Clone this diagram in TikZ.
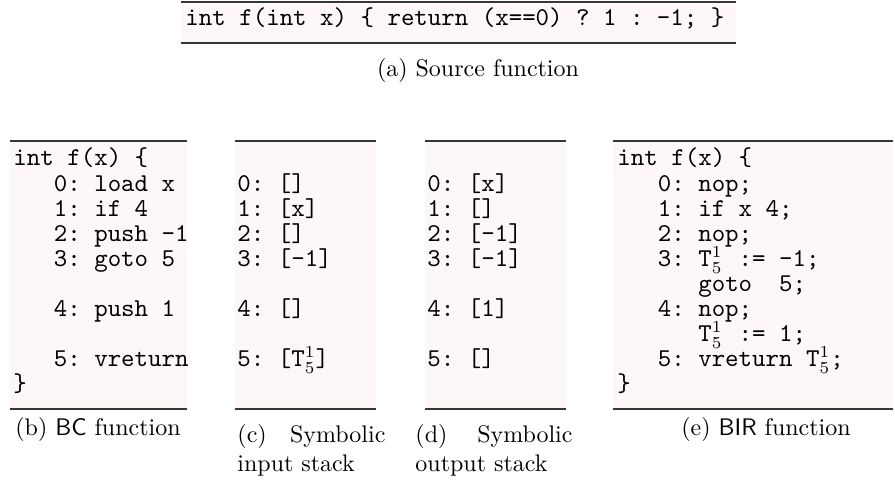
\documentclass[tikz,border=0pt]{standalone}
\usepackage{tikz}

\definecolor{codebg}{RGB}{253,248,247}
\definecolor{rulecol}{RGB}{55,55,55}
\newcommand{\codefont}{\fontsize{10.7}{12}\selectfont\ttfamily}
\newcommand{\tfive}{T$^1_5$}
\newcommand{\tpad}{\rlap{\tfive}\phantom{Tx}}

\tikzset{
	code/.style={anchor=base west,inner sep=0pt,font=\codefont},
	subcap/.style={anchor=base,inner sep=0pt,font=\normalsize},
	twocap/.style={anchor=north west,inner sep=0pt,text width=#1,align=justify,font=\normalsize},
	rule/.style={draw=rulecol,line width=0.5pt}
}

\begin{document}
\begin{tikzpicture}[x=0.417pt,y=-0.417pt]
		\useasboundingbox (0,0) rectangle (895,489);
		% source line
		\fill[codebg] (181,2) rectangle (736,43);
		\draw[rule] (181,2) -- (736,2);
		\draw[rule] (181,43) -- (736,43);
		\node[code] (src) at (185,26) {int~f(int~x)~\{~return~(x==0)~?~1~:~-1;~\}};
		\node[subcap] (capa) at (478,77) {(a) Source function};
		% listing boxes
		\foreach \xa/\xb in {10/187,235/376,425/566,613/893}{
			\fill[codebg] (\xa,141) rectangle (\xb,409);
			\draw[rule] (\xa,141) -- (\xb,141);
			\draw[rule] (\xa,409) -- (\xb,409);
		}
		% BC function
		\node[code] (b0) at (13,166) {int~f(x)~\{};
		\node[code] (b1) at (13,192) {~~~0:~load~x};
		\node[code] (b2) at (13,217) {~~~1:~if~4};
		\node[code] (b3) at (13,242) {~~~2:~push~-1};
		\node[code] (b4) at (13,267) {~~~3:~goto~5};
		\node[code] (b5) at (13,317) {~~~4:~push~1};
		\node[code] (b6) at (13,367) {~~~5:~vreturn};
		\node[code] (b7) at (13,392) {\}};
		% input stack
		\node[code] (c1) at (237,192) {0:~[]};
		\node[code] (c2) at (237,217) {1:~[x]};
		\node[code] (c3) at (237,242) {2:~[]};
		\node[code] (c4) at (237,267) {3:~[-1]};
		\node[code] (c5) at (237,317) {4:~[]};
		\node[code] (c6) at (237,367) {5:~[\tfive]};
		% output stack
		\node[code] (d1) at (427,192) {0:~[x]};
		\node[code] (d2) at (427,217) {1:~[]};
		\node[code] (d3) at (427,242) {2:~[-1]};
		\node[code] (d4) at (427,267) {3:~[-1]};
		\node[code] (d5) at (427,317) {4:~[1]};
		\node[code] (d6) at (427,367) {5:~[]};
		% BIR function
		\node[code] (e0) at (617,166) {int~f(x)~\{};
		\node[code] (e1) at (617,192) {~~~0:~nop;};
		\node[code] (e2) at (617,217) {~~~1:~if~x~4;};
		\node[code] (e3) at (617,242) {~~~2:~nop;};
		\node[code] (e4) at (617,267) {~~~3:~\tpad~:=~-1;};
		\node[code] (e5) at (617,292) {~~~~~~goto~~5;};
		\node[code] (e6) at (617,317) {~~~4:~nop;};
		\node[code] (e7) at (617,342) {~~~~~~\tpad~:=~1;};
		\node[code] (e8) at (617,367) {~~~5:~vreturn~\tfive;};
		\node[code] (e9) at (617,392) {\}};
		% captions
		\node[subcap] (capb) at (98,436) {(b) \textsf{BC} function};
		\node[twocap=61.7pt] (capc) at (237,424) {(c) Symbolic input stack};
		\node[twocap=65.5pt] (capd) at (415,424) {(d) Symbolic output stack};
		\node[subcap] (cape) at (766,436) {(e) \textsf{BIR} function};
\end{tikzpicture}
\end{document}
